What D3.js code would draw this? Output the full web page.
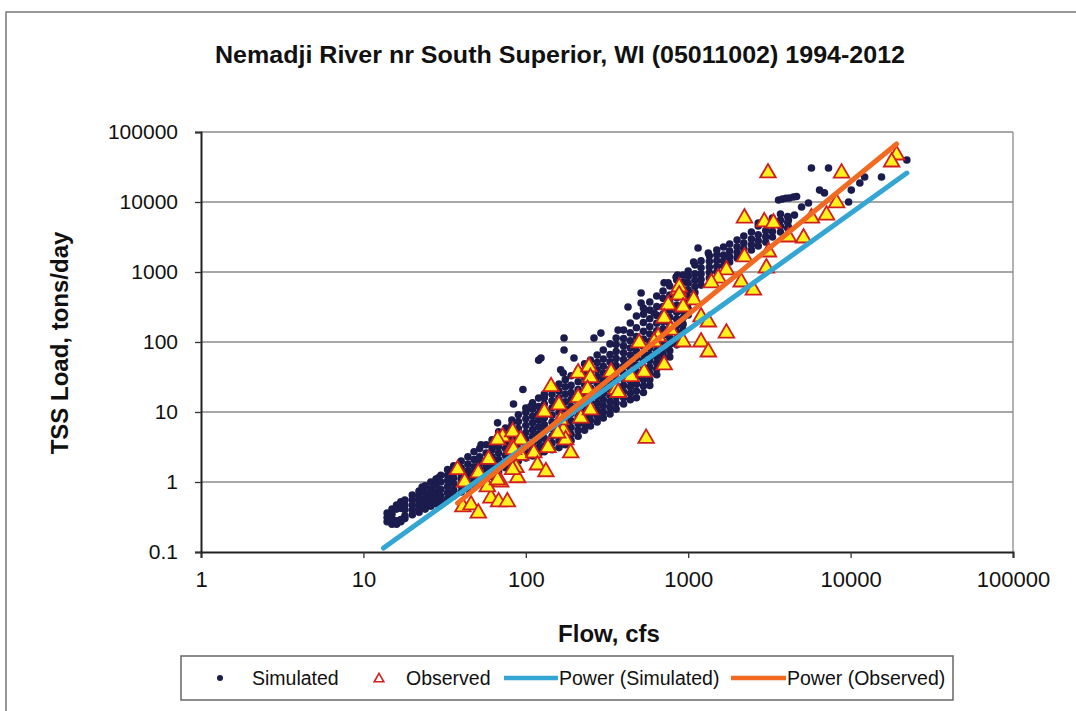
<!DOCTYPE html>
<html>
<head>
<meta charset="utf-8">
<script src="https://cdn.jsdelivr.net/npm/d3@7"></script>
<style>
  body { margin: 0; background: #fff; }
  svg { display: block; font-family: "Liberation Sans", Arial, sans-serif; }
</style>
</head>
<body>
<div id="chart"></div>
<script>
// ---- data ----
const chartTitle = "Nemadji River nr South Superior, WI (05011002) 1994-2012";
const xTitle = "Flow, cfs";
const yTitle = "TSS Load, tons/day";

const xTicks = [1, 10, 100, 1000, 10000, 100000];
const xTickLabels = ["1", "10", "100", "1000", "10000", "100000"];
const yTicks = [0.1, 1, 10, 100, 1000, 10000, 100000];
const yTickLabels = ["0.1", "1", "10", "100", "1000", "10000", "100000"];

// simulated daily loads, grouped by flow (cfs) -> loads (tons/day)
const simFlow = [14, 15, 16, 17, 18, 20, 22, 24, 26, 28, 30, 33, 36, 40, 44, 48, 52, 57, 62, 68,
  75, 82, 90, 100, 110, 120, 130, 145, 160, 175, 190, 210, 230, 250, 275, 300, 330, 360, 400, 440,
  480, 530, 580, 640, 700, 770, 850, 930, 1000, 1100, 1200, 1350, 1500, 1650, 1800, 2000, 2200,
  2450, 2700, 3000, 3300, 3700, 4100];
const simLoads = [
  [0.27, 0.31, 0.36],
  [0.25, 0.3, 0.35, 0.41],
  [0.25, 0.28, 0.41, 0.47],
  [0.27, 0.29, 0.42, 0.52],
  [0.3, 0.33, 0.4, 0.47, 0.55],
  [0.34, 0.4, 0.47, 0.56, 0.65],
  [0.37, 0.44, 0.52, 0.62, 0.74],
  [0.41, 0.49, 0.58, 0.7, 0.88],
  [0.45, 0.54, 0.65, 0.8, 1.0],
  [0.49, 0.59, 0.72, 0.9, 1.1],
  [0.52, 0.63, 0.78, 1.0, 1.25],
  [0.57, 0.7, 0.86, 1.05, 1.25, 1.5],
  [0.63, 0.77, 0.95, 1.15, 1.4, 1.7],
  [0.72, 0.88, 1.1, 1.3, 1.6, 2.0],
  [0.79, 0.97, 1.2, 1.45, 1.8, 2.3],
  [0.91, 1.1, 1.35, 1.65, 2.1, 2.7],
  [1.0, 1.2, 1.5, 1.85, 2.3, 3.0],
  [1.1, 1.35, 1.65, 2.0, 2.6, 3.4],
  [1.2, 1.5, 1.85, 2.3, 2.9, 3.3, 4.0],
  [1.4, 1.7, 2.1, 2.6, 3.2, 4.1, 5.2],
  [1.6, 1.95, 2.4, 3.0, 3.7, 4.7, 5.9],
  [1.8, 2.2, 2.7, 3.3, 4.2, 5.2, 6.5, 7.7],
  [2.0, 2.5, 3.0, 3.7, 4.6, 5.8, 7.3, 9.1],
  [2.2, 2.7, 3.3, 4.1, 5.1, 6.4, 8.0, 9.8, 11.4],
  [2.35, 2.9, 3.6, 4.5, 5.6, 7.0, 8.7, 11, 13.5],
  [2.5, 3.1, 3.9, 4.9, 6.1, 7.6, 9.5, 12, 15.8],
  [2.7, 3.3, 4.2, 5.3, 6.6, 8.3, 10.5, 13, 16, 18],
  [2.9, 3.6, 4.5, 5.7, 7.2, 9.0, 11.5, 14.5, 18, 21],
  [3.1, 3.9, 4.9, 6.2, 7.8, 9.8, 12.5, 16, 20, 25],
  [3.4, 4.3, 5.4, 6.8, 8.6, 11, 14, 18, 23, 29],
  [3.9, 4.8, 6.0, 7.5, 9.5, 12, 15, 19, 24, 33],
  [4.5, 5.5, 6.8, 8.5, 10.5, 13, 17, 21, 27, 34, 40],
  [5.5, 6.7, 8.2, 10, 12.5, 15.5, 19.5, 24.5, 31, 39, 49],
  [6.3, 7.6, 9.3, 11.5, 14, 17.5, 22, 28, 35, 44, 55],
  [7.2, 8.8, 10.8, 13.3, 16.5, 20.5, 25.5, 32, 40, 51, 65],
  [8.2, 10, 12.3, 15, 18.5, 23, 29, 36, 45, 57, 77],
  [9.4, 11.5, 14, 17.2, 21, 26, 33, 41, 52, 66, 94],
  [11, 13.4, 16.4, 20, 24.5, 30, 37, 46, 58, 73, 92, 114],
  [13, 16, 19.5, 24, 29.5, 36, 45, 56, 70, 88, 112, 148],
  [15, 18.5, 23, 28, 34.5, 42, 52, 65, 82, 104, 135, 187],
  [16, 20, 25, 31, 38, 47, 59, 74, 94, 120, 160, 235],
  [19, 23.5, 29, 36, 44, 55, 68, 86, 110, 142, 190, 250, 306],
  [24, 29, 36, 44, 54, 66, 82, 102, 130, 165, 215, 285, 372],
  [34, 41, 50, 61, 75, 92, 115, 145, 185, 240, 320, 454],
  [45, 55, 67, 82, 100, 125, 155, 195, 250, 320, 420, 535],
  [61, 75, 92, 115, 142, 178, 225, 285, 365, 470, 630],
  [91, 112, 138, 170, 212, 265, 335, 430, 560, 770],
  [148, 180, 222, 275, 345, 435, 560, 720, 906],
  [243, 295, 360, 445, 550, 690, 860, 1030],
  [425, 510, 620, 760, 940, 1260],
  [650, 780, 940, 1150, 1440],
  [820, 980, 1180, 1420, 1700],
  [1000, 1200, 1450, 1750, 2060],
  [1220, 1450, 1750, 2280],
  [1390, 1650, 2000, 2510],
  [1590, 1900, 2300, 2860],
  [1810, 2150, 2600, 3260],
  [2060, 2450, 2950, 3730],
  [2350, 2800, 3400, 4540],
  [2680, 3200, 3900, 5180],
  [3160, 3800, 4600, 5900],
  [3730, 4500, 5500, 6750],
  [4250, 5100, 6200]
];
// scattered simulated days away from the main band [flow, load]
const simScatter = [
  [23, 0.85], [29, 1.15], [36, 1.65], [53, 3.4], [67, 7.0], [84, 13], [96, 21], [107, 12],
  [124, 59], [120, 55], [172, 114], [172, 77], [164, 40], [170, 36], [198, 59], [263, 114],
  [290, 134], [370, 148], [426, 316], [513, 500], [513, 360], [617, 260], [710, 700],
  [753, 700], [842, 850], [860, 906], [1080, 1390], [1150, 2200], [1330, 1870], [2700, 5000],
  [3600, 10700], [3800, 11000], [4000, 11300], [4200, 11400], [4450, 11800], [4650, 12000],
  [4140, 5530], [4140, 4400], [4510, 6500], [4990, 8500], [5500, 9700], [5740, 30600],
  [7310, 30600], [6440, 14800], [6900, 13500], [9720, 10000], [10100, 14800], [11400, 18700],
  [12200, 22800], [15500, 22800], [22200, 39800]
];

// observed samples [flow, load]
const observed = [
  [38, 1.5], [42, 1.0], [41, 0.44], [46, 0.47], [51, 0.36], [51, 1.35], [59, 2.1], [61, 0.59],
  [68, 0.52], [77, 0.52], [70, 1.0], [72, 4.4], [83, 5.2], [83, 3.1], [89, 1.15], [93, 2.4],
  [87, 1.6], [112, 2.6], [118, 1.75], [133, 1.4], [137, 3.1], [130, 10], [143, 23], [160, 12.6],
  [170, 5.5], [176, 4.0], [189, 2.6], [210, 36], [245, 44], [250, 31], [240, 21], [210, 16],
  [218, 8.2], [250, 10.7], [335, 37], [360, 21], [445, 32], [535, 37], [551, 4.2], [711, 47],
  [931, 100], [1200, 100], [1330, 72], [1720, 134], [370, 19], [753, 338], [867, 553],
  [711, 220], [780, 148], [653, 118], [93, 4.0], [157, 5.0], [3100, 26000], [2220, 5900],
  [2940, 5200], [3350, 5000], [4140, 3160], [5130, 3060], [5740, 5900], [3120, 1930],
  [3030, 1140], [2220, 1640], [2120, 720], [2520, 550], [1720, 1070], [1530, 820], [1390, 700],
  [880, 610], [880, 470], [1080, 400], [930, 316], [1200, 228], [1330, 193], [8800, 25900],
  [19200, 46900], [17900, 37300], [8200, 9700], [7110, 6500], [499, 97], [617, 100],
  [58, 0.85], [67, 1.07], [67, 4.0], [84, 2.9], [83, 1.5], [164, 7.7]
];

// power trendlines, end points [flow, load]
const powerSimulated = [[13.3, 0.114], [22200, 25900]];
const powerObserved = [[38, 0.5], [19200, 67400]];

// ---- layout ----
const W = 1076, H = 711;
const plot = { left: 201, right: 1013, top: 132, bottom: 552 };

const svg = d3.select("#chart").append("svg")
  .attr("width", W).attr("height", H);

// chart frame (scan shows it running off the right / bottom)
svg.append("rect")
  .attr("x", 6).attr("y", 12).attr("width", W + 10).attr("height", H + 10)
  .attr("fill", "#fff").attr("stroke", "#777").attr("stroke-width", 1.5);

const x = d3.scaleLog().domain([1, 100000]).range([plot.left, plot.right]);
const y = d3.scaleLog().domain([0.1, 100000]).range([plot.bottom, plot.top]);

// gridlines
svg.append("g").selectAll("line")
  .data(yTicks.slice(1))
  .join("line")
    .attr("x1", plot.left).attr("x2", plot.right)
    .attr("y1", d => y(d)).attr("y2", d => y(d))
    .attr("stroke", "#8a8a8a").attr("stroke-width", 1.3);

// plot border right side
svg.append("line")
  .attr("x1", plot.right).attr("x2", plot.right)
  .attr("y1", plot.top).attr("y2", plot.bottom)
  .attr("stroke", "#8a8a8a").attr("stroke-width", 1.3);

// axes
const xAxis = d3.axisBottom(x)
  .tickValues(xTicks)
  .tickFormat((d, i) => xTickLabels[i])
  .tickSize(6).tickPadding(13);
const yAxis = d3.axisLeft(y)
  .tickValues(yTicks)
  .tickFormat((d, i) => yTickLabels[i])
  .tickSize(6).tickPadding(17);

const gx = svg.append("g").attr("transform", `translate(0,${plot.bottom})`).call(xAxis);
const gy = svg.append("g").attr("transform", `translate(${plot.left},0)`).call(yAxis);
[gx, gy].forEach(g => {
  g.select(".domain").attr("stroke", "#222").attr("stroke-width", 2);
  g.selectAll(".tick line").attr("stroke", "#333").attr("stroke-width", 1.3);
  g.selectAll(".tick text")
    .attr("fill", "#111")
    .style("font-family", "'Liberation Sans', Arial, sans-serif");
});
gx.selectAll(".tick text").style("font-size", "22px");
gy.selectAll(".tick text").style("font-size", "21px");

// simulated points
const simPoints = [];
simFlow.forEach((f, i) => simLoads[i].forEach(l => simPoints.push([f, l])));
simScatter.forEach(p => simPoints.push(p));

svg.append("g").selectAll("circle")
  .data(simPoints)
  .join("circle")
    .attr("cx", d => x(d[0]))
    .attr("cy", d => y(d[1]))
    .attr("r", 3.8)
    .attr("fill", "#1b1c4d");

// observed triangles
const tri = d3.symbol(d3.symbolTriangle).size(105);
svg.append("g").selectAll("path")
  .data(observed)
  .join("path")
    .attr("d", tri)
    .attr("transform", d => `translate(${x(d[0])},${y(d[1])})`)
    .attr("fill", "#fff21c")
    .attr("stroke", "#d11f1f")
    .attr("stroke-width", 1.8)
    .attr("stroke-linejoin", "miter");

// trendlines
const line = d3.line().x(d => x(d[0])).y(d => y(d[1]));
svg.append("path").datum(powerSimulated)
  .attr("d", line).attr("fill", "none")
  .attr("stroke", "#33a6d3").attr("stroke-width", 5).attr("stroke-linecap", "round");
svg.append("path").datum(powerObserved)
  .attr("d", line).attr("fill", "none")
  .attr("stroke", "#f26a22").attr("stroke-width", 5).attr("stroke-linecap", "round");

// titles
svg.append("text")
  .attr("x", 560).attr("y", 63)
  .attr("text-anchor", "middle")
  .attr("textLength", 690).attr("lengthAdjust", "spacingAndGlyphs")
  .style("font-size", "23px").style("font-weight", "bold")
  .attr("fill", "#111")
  .text(chartTitle);

svg.append("text")
  .attr("x", 609).attr("y", 642)
  .attr("text-anchor", "middle")
  .style("font-size", "24px").style("font-weight", "bold")
  .attr("fill", "#111")
  .text(xTitle);

svg.append("text")
  .attr("transform", "translate(68,343) rotate(-90)")
  .attr("text-anchor", "middle")
  .style("font-size", "24px").style("font-weight", "bold")
  .attr("fill", "#111")
  .text(yTitle);

// legend
const lg = svg.append("g");
lg.append("rect")
  .attr("x", 181).attr("y", 656).attr("width", 772).attr("height", 44)
  .attr("fill", "#fff").attr("stroke", "#666").attr("stroke-width", 1.5);

const legendY = 678;
lg.append("circle").attr("cx", 220).attr("cy", legendY).attr("r", 3).attr("fill", "#1b1c4d");
lg.append("path")
  .attr("d", d3.symbol(d3.symbolTriangle).size(40))
  .attr("transform", `translate(379,${legendY + 1})`)
  .attr("fill", "#fff").attr("stroke", "#d11f1f").attr("stroke-width", 1.6);
lg.append("line").attr("x1", 504).attr("x2", 558).attr("y1", legendY).attr("y2", legendY)
  .attr("stroke", "#33a6d3").attr("stroke-width", 4.5);
lg.append("line").attr("x1", 731).attr("x2", 786).attr("y1", legendY).attr("y2", legendY)
  .attr("stroke", "#f26a22").attr("stroke-width", 4.5);

const legendItems = [
  { label: "Simulated", x: 252 },
  { label: "Observed", x: 406 },
  { label: "Power (Simulated)", x: 559 },
  { label: "Power (Observed)", x: 787 }
];
lg.selectAll("text.lab")
  .data(legendItems)
  .join("text")
    .attr("class", "lab")
    .attr("x", d => d.x).attr("y", legendY + 7)
    .style("font-size", "19.5px")
    .attr("fill", "#111")
    .text(d => d.label);
</script>
</body>
</html>
